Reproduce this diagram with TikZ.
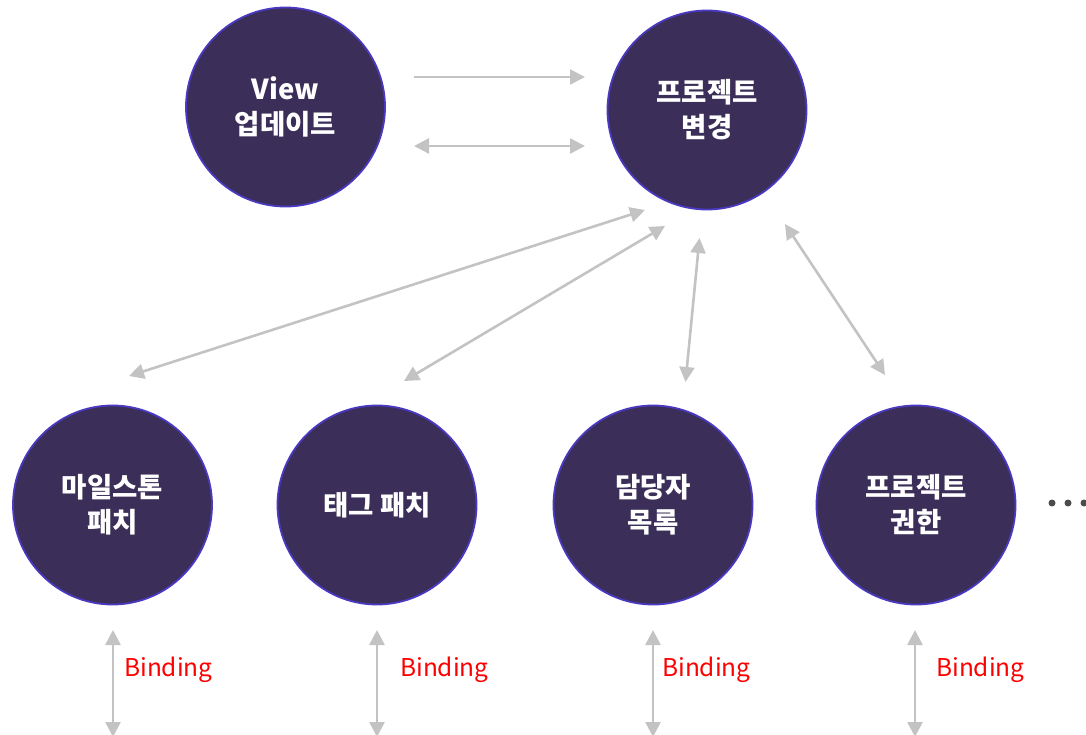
\documentclass[tikz,border=0pt]{standalone}
\usepackage{fontspec}
\setmainfont{Noto Sans CJK KR}
\usetikzlibrary{arrows.meta,calc}
\definecolor{circfill}{HTML}{3B2E58}
\definecolor{circline}{HTML}{4A3AC2}
\definecolor{arrgray}{HTML}{C3C3C3}
\begin{document}
\begin{tikzpicture}[x=1pt,y=-1pt,
  bubble/.style={circle,fill=circfill,draw=circline,line width=1.8pt,minimum size=199pt,inner sep=0pt,
    text=white,font=\fontsize{27.5}{35}\selectfont\bfseries,align=center},
  conn/.style={draw=arrgray,line width=2.6pt,-{Triangle[length=15pt,width=15pt]}},
  biconn/.style={draw=arrgray,line width=2.6pt,{Triangle[length=15pt,width=15pt]}-{Triangle[length=15pt,width=15pt]}},
  bind/.style={text=red,font=\fontsize{24.5}{28}\selectfont,anchor=west,inner sep=0pt},
  dot/.style={circle,fill=black!70,minimum size=7pt,inner sep=0pt}]
\useasboundingbox (0,0) rectangle (1086,735);
\node[bubble] (v) at (285.5,107) {View\\업데이트};
\node[bubble] (p) at (707,110) {프로젝트\\변경};
\node[bubble] (m) at (112.5,505) {마일스톤\\패치};
\node[bubble] (t) at (377,505) {태그 패치};
\node[bubble] (d) at (653,505) {담당자\\목록};
\node[bubble] (r) at (916,505) {프로젝트\\권한};
% endpoints
\coordinate (a1s) at (414,77);  \coordinate (a1e) at (585,77);
\coordinate (a2s) at (414,146); \coordinate (a2e) at (585,146);
\coordinate (m1) at (129,376);  \coordinate (p1) at (645,210);
\coordinate (t1) at (404,381);  \coordinate (p2) at (665,226);
\coordinate (d1) at (685.5,382); \coordinate (p3) at (699.5,238);
\coordinate (r1) at (885,375);  \coordinate (p4) at (785,224);
\draw[conn] (a1s) -- (a1e);
\draw[biconn] (a2s) -- (a2e);
\draw[biconn] (m1) -- (p1);
\draw[biconn] (t1) -- (p2);
\draw[biconn] (d1) -- (p3);
\draw[biconn] (r1) -- (p4);
% binding arrows
\foreach \n/\x/\lx in {m/113/124,t/377/400,d/653/662,r/915/936}{
  \coordinate (\n top) at (\x,630);
  \coordinate (\n bot) at (\x,737);
  \draw[biconn] (\n top) -- (\n bot);
  \node[bind] (\n lab) at (\lx,670) {Binding};
}
\node[dot] (dt1) at (1052,503) {};
\node[dot] (dt2) at (1068,503) {};
\node[dot] (dt3) at (1084,503) {};
\end{tikzpicture}
\end{document}
